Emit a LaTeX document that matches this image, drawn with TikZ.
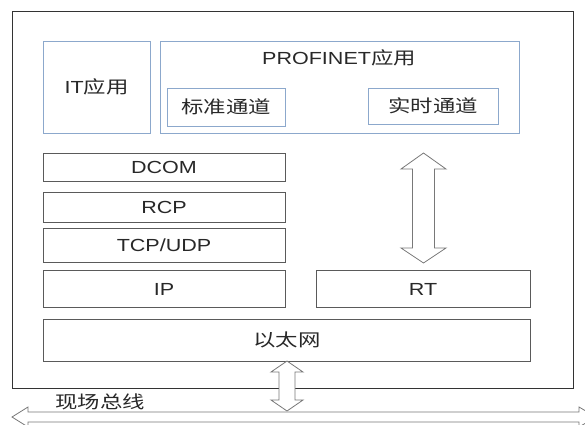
\documentclass[tikz,border=0pt]{standalone}
\usepackage{fontspec}
\setmainfont{Liberation Sans}[FakeStretch=1.23]
\newfontfamily\cjk{Noto Sans CJK SC}[FakeStretch=1.28]
\definecolor{appblue}{RGB}{140,168,204}
\definecolor{boxline}{RGB}{90,90,90}
\definecolor{boxshade}{RGB}{170,170,170}
\definecolor{arrowline}{RGB}{120,120,120}
\definecolor{txt}{RGB}{40,40,40}
\begin{document}
\begin{tikzpicture}[x=1pt,y=-1pt,
  lbl/.style={font=\fontsize{17.5}{20}\selectfont, text=txt, inner sep=0pt},
  appbox/.style={draw=appblue, line width=0.9pt},
  layerbox/.style={draw=boxline, line width=0.8pt, fill=white},
  shade/.style={draw=boxshade, line width=1.2pt},
  fatarrow/.style={draw=arrowline, line width=0.8pt, fill=white, line join=miter}]
\useasboundingbox (0,0) rectangle (585,424);
\clip (0,0) rectangle (585,424);

% device frame
\draw[draw=black!80, line width=0.8pt] (12,11) rectangle (573,388);

% application level
\draw[appbox] (43,41) rectangle (150,133) node[midway, lbl] (itapp) {IT{\cjk 应用}};
\draw[appbox] (160,41) rectangle (519,133);
\node[lbl] (pnapp) at (339,58) {PROFINET{\cjk 应用}};
\draw[appbox] (167,88) rectangle (285,126) node[midway, lbl] (std) {\cjk 标准通道};
\draw[appbox] (368,88) rectangle (498,124) node[midway, lbl] (rtch) {\cjk 实时通道};

% protocol layers (each with a soft lower-right edge)
\foreach \xa/\ya/\xb/\yb in {43/153/285/181, 43/192/285/222, 43/228/285/262,
                             43/270/285/307, 316/270/530/307, 43/319/530/361}{
  \draw[shade] (\xa+1,\yb+0.6) -- (\xb+0.6,\yb+0.6) -- (\xb+0.6,\ya+1);
  \draw[layerbox] (\xa,\ya) rectangle (\xb,\yb);
}
\node[lbl] (dcom) at (164,167) {DCOM};
\node[lbl] (rcp) at (164,207) {RCP};
\node[lbl] (tcp) at (164,245) {TCP/UDP};
\node[lbl] (ip) at (164,289) {IP};
\node[lbl] (rt) at (423,289) {RT};
\node[lbl] (eth) at (287,340) {\cjk 以太网};

% real-time path between RT and the real-time channel
\draw[fatarrow] (423.5,153) -- (446,169) -- (434.5,169) -- (434.5,248) -- (446,248)
  -- (423.5,263) -- (401,248) -- (412.5,248) -- (412.5,169) -- (401,169) -- cycle;

% link from Ethernet down to the field bus
\draw[fatarrow] (287,361) -- (303,372) -- (295,372) -- (295,400) -- (303,400)
  -- (287,411) -- (271,400) -- (279,400) -- (279,372) -- (271,372) -- cycle;

% field bus
\draw[fatarrow] (12,417) -- (28,407) -- (28,412) -- (579,412) -- (579,407)
  -- (596,417) -- (579,427) -- (579,422) -- (28,422) -- (28,427) -- cycle;
\node[lbl] (bus) at (100,402) {\cjk 现场总线};
\end{tikzpicture}
\end{document}
